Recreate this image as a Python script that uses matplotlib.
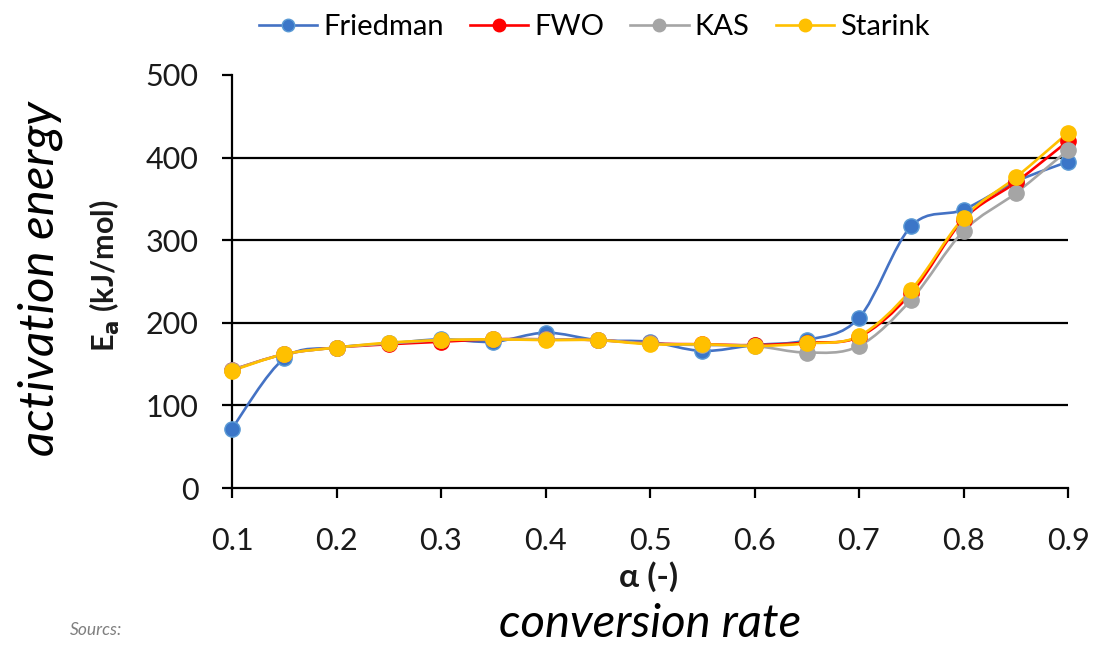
import matplotlib
matplotlib.use("Agg")
import matplotlib.pyplot as plt
from matplotlib.path import Path
from matplotlib.patches import PathPatch
from matplotlib.lines import Line2D
import numpy as np

plt.rcParams['font.family'] = ['Lato', 'DejaVu Sans']

# ---- data ----
alpha = [0.1, 0.15, 0.2, 0.25, 0.3, 0.35, 0.4, 0.45, 0.5, 0.55, 0.6, 0.65, 0.7, 0.75, 0.8, 0.85, 0.9]
friedman = [72, 157, 170, 175, 180, 177, 188, 179, 177, 166, 173, 179, 206, 317, 337, 371, 395]
fwo = [143, 162, 170, 174, 177, 180, 180, 179, 175, 174, 173, 176, 183, 236, 325, 370, 420]
kas = [143, 162, 170, 175, 179, 180, 180, 179, 175, 173, 172, 164, 172, 228, 311, 357, 409]
starink = [142, 162, 170, 176, 179, 180, 179, 179, 174, 174, 172, 175, 184, 240, 327, 376, 430]
series_names = ["Friedman", "FWO", "KAS", "Starink"]
x_ticks = [0.1, 0.2, 0.3, 0.4, 0.5, 0.6, 0.7, 0.8, 0.9]
y_ticks = [0, 100, 200, 300, 400, 500]

series = [friedman, fwo, kas, starink]
line_colors = ["#4472C4", "#FF0000", "#A5A5A5", "#FFC000"]
marker_faces = ["#3B76C8", "#FF0000", "#A5A5A5", "#FFC000"]
marker_edges = ["#5B9BD5", "#FF0000", "#A5A5A5", "#FFC000"]


def smooth_path(xs, ys):
    """Excel-style smoothed line: cubic Bezier through the data points."""
    xs = np.asarray(xs, float)
    ys = np.asarray(ys, float)
    n = len(xs)
    verts = [(xs[0], ys[0])]
    codes = [Path.MOVETO]
    for i in range(n - 1):
        p0 = np.array([xs[max(i - 1, 0)], ys[max(i - 1, 0)]])
        p1 = np.array([xs[i], ys[i]])
        p2 = np.array([xs[i + 1], ys[i + 1]])
        p3 = np.array([xs[min(i + 2, n - 1)], ys[min(i + 2, n - 1)]])
        c1 = p1 + (p2 - p0) / 6.0
        c2 = p2 - (p3 - p1) / 6.0
        verts += [tuple(c1), tuple(c2), tuple(p2)]
        codes += [Path.CURVE4, Path.CURVE4, Path.CURVE4]
    return Path(verts, codes)


fig = plt.figure(figsize=(10.93, 6.49), dpi=100)
ax = fig.add_axes([232 / 1093, 1 - 488 / 649, (1068 - 232) / 1093, (488 - 75) / 649])

ax.set_xlim(0.1, 0.9)
ax.set_ylim(0, 500)

# gridlines (no line at top value)
for yv in y_ticks[1:-1]:
    ax.axhline(yv, color="black", lw=1.6, zorder=1)

handles = []
for name, ys, lc, mf, me in zip(series_names, series, line_colors, marker_faces, marker_edges):
    patch = PathPatch(smooth_path(alpha, ys), facecolor="none", edgecolor=lc, lw=1.9,
                      transform=ax.transData, zorder=3, clip_on=False)
    ax.add_patch(patch)
    ax.plot(alpha, ys, linestyle="none", marker="o", markersize=11, markerfacecolor=mf,
            markeredgecolor=me, markeredgewidth=1.0, zorder=4, clip_on=False)
    handles.append(Line2D([0], [0], color=lc, lw=1.9, marker="o", markersize=9,
                          markerfacecolor=mf, markeredgecolor=me, label=name))

for s in ["top", "right"]:
    ax.spines[s].set_visible(False)
for s in ["left", "bottom"]:
    ax.spines[s].set_color("black")
    ax.spines[s].set_linewidth(1.6)

ax.set_xticks(x_ticks)
ax.set_xticklabels([f"{v:.1f}" for v in x_ticks])
ax.set_yticks(y_ticks)
ax.set_yticklabels([str(v) for v in y_ticks])
ax.tick_params(axis="both", direction="out", length=7, width=1.6, color="black",
               labelsize=22, labelcolor="#1a1a1a")
ax.tick_params(axis="y", pad=17)
ax.tick_params(axis="x", pad=21)

fig.text(105 / 1093, 1 - 276 / 649, r"E$_\mathbf{a}$ (kJ/mol)", rotation=90, ha="center",
         va="center", fontsize=22, fontweight="bold", color="#1a1a1a")
fig.text(649 / 1093, 1 - 577 / 649, "α (-)", ha="center", va="center", fontsize=24,
         fontweight="bold", color="#1a1a1a")

fig.text(40 / 1093, 1 - 279 / 649, "activation energy", rotation=90, ha="center", va="center",
         fontsize=35.5, fontstyle="italic", color="black")
fig.text(650 / 1093, 1 - 624 / 649, "conversion rate", ha="center", va="center",
         fontsize=34, fontstyle="italic", color="black")
fig.text(70 / 1093, 1 - 630 / 649, "Sourcs:", ha="left", va="center", fontsize=12.5,
         fontstyle="italic", color="#7f7f7f")

fig.legend(handles=handles, loc="center", bbox_to_anchor=(594 / 1093, 1 - 27 / 649), ncol=4,
           frameon=False, fontsize=21, handlelength=2.0, handletextpad=0.2,
           columnspacing=0.9, borderaxespad=0)

fig.savefig("out.png", dpi=100)
